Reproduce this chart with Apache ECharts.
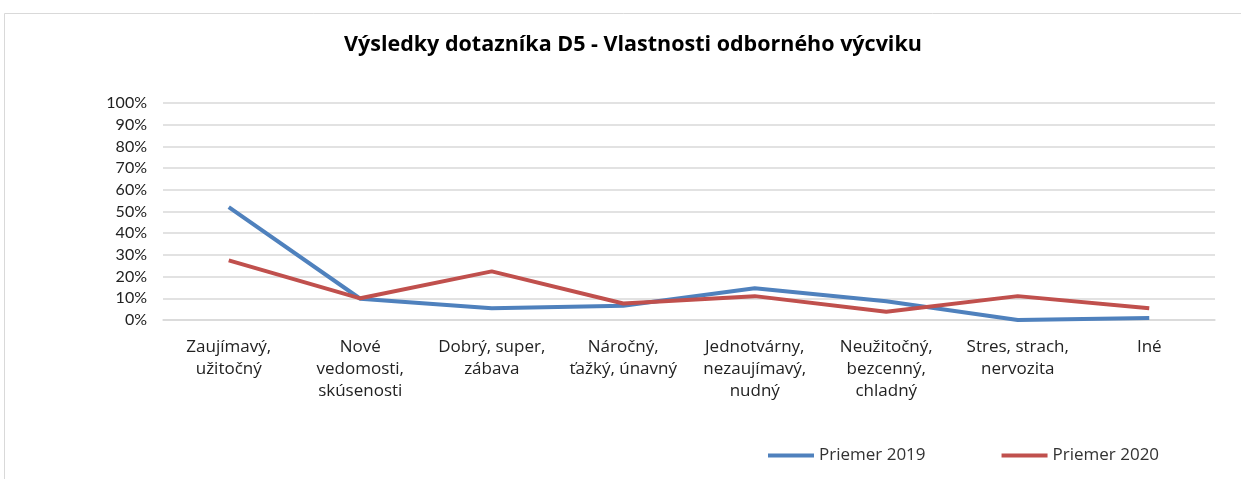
<!DOCTYPE html>
<html><head><meta charset="utf-8">
<script src="https://cdn.jsdelivr.net/npm/echarts@6/dist/echarts.min.js"></script>
<style>html,body{margin:0;padding:0;background:#fff}#c{width:1241px;height:479px}</style>
</head><body><div id="c"></div>
<script>
const categories = ["Zaujímavý,\nužitočný","Nové\nvedomosti,\nskúsenosti","Dobrý, super,\nzábava","Náročný,\nťažký, únavný","Jednotvárny,\nnezaujímavý,\nnudný","Neužitočný,\nbezcenný,\nchladný","Stres, strach,\nnervozita","Iné"];
const priemer2019 = [52, 9.8, 5.4, 6.6, 14.6, 8.6, 0, 0.9];
const priemer2020 = [27.5, 10, 22.4, 7.6, 11, 3.8, 11, 5.4];
const yTicks = [0,10,20,30,40,50,60,70,80,90,100];
const font = "'Open Sans', Lato, sans-serif";
const font2 = "Lato, 'Open Sans', sans-serif";
const chart = echarts.init(document.getElementById('c'));
chart.setOption({
  animation:false,
  backgroundColor:'#fff',
  graphic:[{type:'rect',shape:{x:4.5,y:13.5,width:1300,height:600},style:{fill:'none',stroke:'#d9d9d9',lineWidth:1}}],
  title:{text:'Výsledky dotazníka D5 - Vlastnosti odborného výcviku',left:339,top:29,
    textStyle:{fontFamily:font,fontSize:21.5,fontWeight:'bold',color:'#000'}},
  legend:{bottom:10,left:763,itemGap:76,itemWidth:46,itemHeight:4,icon:'rect',
    textStyle:{fontFamily:font,fontSize:17,color:'#333'},
    data:['Priemer 2019','Priemer 2020']},
  grid:{left:163,right:26,top:103,bottom:159,containLabel:false},
  xAxis:{type:'category',data:categories,boundaryGap:true,
    axisLine:{show:true,lineStyle:{color:'#d9d9d9',width:1.5}},axisTick:{show:false},
    axisLabel:{interval:0,margin:16,lineHeight:22,fontFamily:font,fontSize:17,color:'#222'}},
  yAxis:{type:'value',min:0,max:100,interval:10,
    axisLine:{show:false},axisTick:{show:false},
    splitLine:{lineStyle:{color:'#d9d9d9',width:1.5}},
    axisLabel:{margin:16,fontFamily:font2,fontSize:16,color:'#222',formatter:v=>yTicks.includes(v)?v+'%':''}},
  series:[
    {name:'Priemer 2019',type:'line',data:priemer2019,symbol:'none',lineStyle:{width:4,color:'#4F81BD'},itemStyle:{color:'#4F81BD'}},
    {name:'Priemer 2020',type:'line',data:priemer2020,symbol:'none',lineStyle:{width:4,color:'#C0504D'},itemStyle:{color:'#C0504D'}}
  ]
});
</script></body></html>
